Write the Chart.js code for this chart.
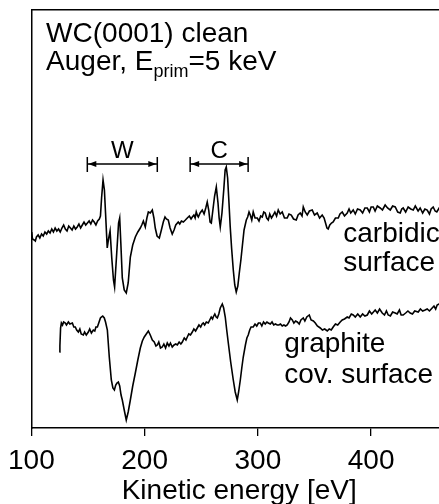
<!DOCTYPE html>
<html>
<head>
<meta charset="utf-8">
<script src="https://cdn.jsdelivr.net/npm/chart.js@4"></script>
<style>
  html, body { margin: 0; padding: 0; background: #fff; overflow: hidden; }
  #wrap { width: 439px; height: 504px; overflow: hidden; }
</style>
</head>
<body>
<div id="wrap"><canvas id="myChart" width="447" height="504"></canvas></div>
<script>
// kinetic energy (eV) / intensity (arb. units) for the carbidic surface
var carbidicE = [100.3,101,102.5,103.5,104.5,106,107.5,109,110.5,112,113.5,115,116.5,118,119.5,121,122.5,124,125.5,127,128.5,130,131.5,133,134.5,136,137.5,139,140.5,142,143.5,145,146.5,148,149.5,151,152.5,154,155.5,157,158.5,160,161,162,163.3,164.5,165.5,167,168,169.5,171,172.5,173.5,175,177,178,179,180.3,182,183.8,185.5,187.4,189.5,191.8,194,196.2,197.5,198.9,200.6,202,203.3,205,206.8,208.2,209.4,211,213,214.8,216.5,218,219.2,220.9,222.5,224.4,226,227.5,229.7,231,232.5,234.2,236,237.7,239.5,241,242.1,243.5,244.6,245.6,246.8,247.4,249,250.9,252.5,254,255.3,256.6,257.8,258.9,260.5,261.8,263.3,264.8,265.8,266.8,268.3,270,271.1,272.1,273.3,274.5,275.6,276.8,278.3,279.6,280.9,282.3,283.6,285,286.2,287.8,289.8,291,292.2,293.3,294.6,295.9,297.5,299.5,301,302.5,303.9,305.2,306.5,307.8,309.2,310.5,312,313.6,315,316.5,318,319.7,321.5,323.5,325.9,327.5,329.5,331.5,333.9,335.5,337.4,339,340.1,341.8,343.6,345.5,348,350,352.4,354.5,356.8,358.5,359.5,361,362.1,363.5,365,366.5,368.5,371,372.5,374.5,376.5,378.9,380.5,382,384.2,386,388,390.4,392.5,394.5,396.6,398.5,400,401.9,403.5,405.5,408,410,412.4,414.5,416.9,419,421.3,423.5,425.7,427,428.3,430.5,432.7,435,437.2,439,441.5,443.3,445.5,447.5,449.5,451.5,453,454.8,456.5,458,460.1,462,464,466];
var carbidicY = [196,189,188,187,191,193,190,194,192,196,194,197,195,199,196,200,197,199,196,200,203,199,197,202,200,198,202,199,201,204,200,203,206,203,205,207,204,208,206,203,207,209,212,230,248,238,215,180,188,197,170,148,141,168,205,210,185,150,138,135,145,171,183,191,196,200,203,207,201,210,216,215,218,210,200,192,190,198,206,211,209,208,200,194,198,203,206,204,207,206,208,210,212,209,211,213,210,216,212,211,215,218,214,220,226,218,206,205,220,232,241,225,210,201,215,240,258,261,250,225,201,180,158,143,136,142,155,168,181,198,208,211,216,213,208,216,210,210,207,212,211,216,215,210,208,214,210,213,216,212,218,214,216,210,210,214,213,209,208,213,215,212,221,216,213,217,218,213,215,210,213,210,206,200,199,203,205,206,210,210,214,216,212,215,219,215,218,214,219,218,215,220,220,216,221,221,217,222,220,218,223,220,218,222,221,216,215,219,220,216,221,219,218,222,217,220,215,219,218,214,219,221,217,216,220,217,221,218];

// kinetic energy (eV) / intensity (arb. units) for the graphite covered surface
var graphiteE = [124.7,125.2,125.8,126.5,127.5,128.5,130,131,132.7,134,136.2,137.5,138.8,140,141.5,142.8,144,145.9,147,148.5,150.3,151.5,153,154.7,156,157,158.3,159.5,161,161.8,163,164.4,165.5,167.1,168.8,170.6,172,173.3,174.5,175.6,176.8,178,179.2,180.3,182,183.8,185.5,187.4,189.5,191.8,194,196.2,198,199.7,201.5,203.3,205,206.8,208.5,210,211.2,212.5,214,215.6,217,218.5,220,221.5,222.8,224.4,226,227.5,228.9,230.5,232,233.3,235,236.5,237.7,239,240.5,242.1,243.5,245,246.5,248,249.5,250.8,251.8,253,254.5,256.2,257.5,258.8,260,260.6,262,263.2,264.2,265.5,266.8,268.6,269.8,271.2,272.5,273.9,276,278.3,280,281.8,283,284.5,285.8,287.1,289,290.3,291.5,292.8,294,295.9,297.5,299,300.5,302.1,303.5,305,306.5,308,309.2,311,312.5,314,315.5,317.1,318.5,320,321.5,323,324.5,325.9,327.5,328.8,330.4,331.8,333.3,334.8,336.5,338,340.1,341.5,343.2,345.4,347,349,350.7,352.5,355.1,357,359,361.3,363,364.8,366.5,368.5,370.5,372.7,374.5,376.5,378.9,380.5,382.5,384.2,386,388.2,390.4,392.5,394.5,396.6,398.5,400.5,403.6,405.5,407.5,409.8,411.8,413.5,415.1,417,419,421.3,423,425,426.5,428.3,430.5,432.5,434.5,436.5,438.5,441.6,443.5,445.5,447.7,449.5,451.5,453.9,455.5,457,458.3,460,462,464,466];
var graphiteY = [76,82,100,105,103,106,105,103,106,104,105,101,101,98,96,99,94,93,96,93,96,99,95,98,97,101,101,105,110,111,112,110,106,98,71,48,40,38,43,45,46,42,33,28,18,8,16,28,42,55,68,80,87,91,94,97,93,88,86,82,83,86,80,81,84,80,85,82,85,81,83,84,83,86,84,86,90,88,91,94,93,96,99,97,100,103,101,104,105,103,106,105,108,111,109,111,114,111,110,114,120,124,120,111,98,85,66,48,36,28,36,48,60,71,83,90,93,98,101,101,104,102,105,105,102,106,104,106,105,104,106,103,104,103,103,104,102,103,102,103,106,110,108,105,107,106,104,108,110,107,111,113,108,107,105,102,100,98,99,97,99,98,101,104,103,106,108,109,111,110,114,113,111,114,111,114,112,113,117,114,118,115,119,115,113,117,113,112,116,115,114,118,113,113,115,117,115,114,117,116,119,117,118,119,117,120,122,119,123,124,122,125,123];

var xTicks = [100, 200, 300, 400];

function pairs(xs, ys) {
     var out = [];
     for (var i = 0; i < xs.length; i++) {
          out.push({ x: xs[i], y: ys[i] });
     }
     return out;
}

var FONT = '"Liberation Sans", Arial, Helvetica, sans-serif';

// text and arrow markers, placed in data units
var labels = {
     id: 'labels',
     afterDraw: function (chart) {
          var ctx = chart.ctx;
          var sx = chart.scales.x, sy = chart.scales.y;
          ctx.save();
          ctx.fillStyle = '#000';
          ctx.strokeStyle = '#000';
          ctx.textBaseline = 'alphabetic';

          // header
          ctx.textAlign = 'left';
          ctx.font = '28px ' + FONT;
          var hx = sx.getPixelForValue(113);
          ctx.fillText('WC(0001) clean', hx, sy.getPixelForValue(386));
          var by = sy.getPixelForValue(358);
          ctx.fillText('Auger, E', hx, by);
          var w1 = ctx.measureText('Auger, E').width;
          ctx.font = '18px ' + FONT;
          ctx.fillText('prim', hx + w1, by + 7);
          var w2 = ctx.measureText('prim').width;
          ctx.font = '28px ' + FONT;
          ctx.fillText('=5 keV', hx + w1 + w2, by);

          // W and C ranges
          ctx.font = '24px ' + FONT;
          ctx.textAlign = 'center';
          var ay = sy.getPixelForValue(264);
          [[149.4, 211.2, 'W'], [240.2, 291.4, 'C']].forEach(function (r) {
               var a = sx.getPixelForValue(r[0]), b = sx.getPixelForValue(r[1]);
               ctx.fillText(r[2], (a + b) / 2, ay - 6);
               ctx.lineWidth = 1.5;
               ctx.beginPath();
               ctx.moveTo(a, ay); ctx.lineTo(b, ay);
               ctx.moveTo(a, ay - 7); ctx.lineTo(a, ay + 8);
               ctx.moveTo(b, ay - 7); ctx.lineTo(b, ay + 8);
               ctx.stroke();
               ctx.beginPath();
               ctx.moveTo(a + 1, ay); ctx.lineTo(a + 9, ay - 3); ctx.lineTo(a + 9, ay + 3); ctx.closePath();
               ctx.moveTo(b - 1, ay); ctx.lineTo(b - 9, ay - 3); ctx.lineTo(b - 9, ay + 3); ctx.closePath();
               ctx.fill();
          });

          // curve labels
          ctx.font = '28px ' + FONT;
          ctx.textAlign = 'left';
          ctx.fillText('carbidic', sx.getPixelForValue(375.4), sy.getPixelForValue(186));
          ctx.fillText('surface', sx.getPixelForValue(375.4), sy.getPixelForValue(157));
          ctx.fillText('graphite', sx.getPixelForValue(323.3), sy.getPixelForValue(76));
          ctx.fillText('cov. surface', sx.getPixelForValue(323.3), sy.getPixelForValue(45));
          ctx.restore();
     }
};

new Chart('myChart', {
     type: 'line',
     data: {
          datasets: [{
               data: pairs(carbidicE, carbidicY),
               borderColor: '#000',
               borderWidth: 1.6,
               pointRadius: 0,
               fill: false,
               tension: 0
          }, {
               data: pairs(graphiteE, graphiteY),
               borderColor: '#000',
               borderWidth: 1.6,
               pointRadius: 0,
               fill: false,
               tension: 0
          }]
     },
     options: {
          responsive: false,
          animation: false,
          layout: { padding: { left: 31, top: 10, right: 0, bottom: 0 } },
          plugins: { legend: { display: false }, tooltip: { enabled: false } },
          scales: {
               x: {
                    type: 'linear',
                    position: 'bottom',
                    min: 100,
                    max: 467,
                    afterFit: function (s) { s.height = 76; },
                    afterBuildTicks: function (s) {
                         s.ticks = xTicks.map(function (v) { return { value: v }; });
                    },
                    ticks: {
                         color: '#000',
                         font: { family: FONT, size: 28 },
                         padding: 8,
                         maxRotation: 0
                    },
                    grid: {
                         display: true,
                         drawOnChartArea: false,
                         drawTicks: true,
                         tickLength: 8,
                         tickColor: '#000',
                         lineWidth: 1.3
                    },
                    border: { display: true, color: '#000', width: 1.5 },
                    title: {
                         display: true,
                         text: 'Kinetic energy [eV]',
                         color: '#000',
                         font: { family: FONT, size: 28, lineHeight: 0.9 },
                         padding: { top: 0, bottom: 0 }
                    }
               },
               top: {
                    type: 'linear',
                    position: 'top',
                    min: 100,
                    max: 467,
                    afterFit: function (s) { s.height = 0; },
                    ticks: { display: false },
                    grid: { display: false },
                    border: { display: true, color: '#000', width: 1.5 }
               },
               y: {
                    type: 'linear',
                    min: 0,
                    max: 418,
                    afterFit: function (s) { s.width = 0; },
                    ticks: { display: false },
                    grid: { display: false },
                    border: { display: true, color: '#000', width: 1.5 }
               }
          }
     },
     plugins: [labels]
});
</script>
</body>
</html>
